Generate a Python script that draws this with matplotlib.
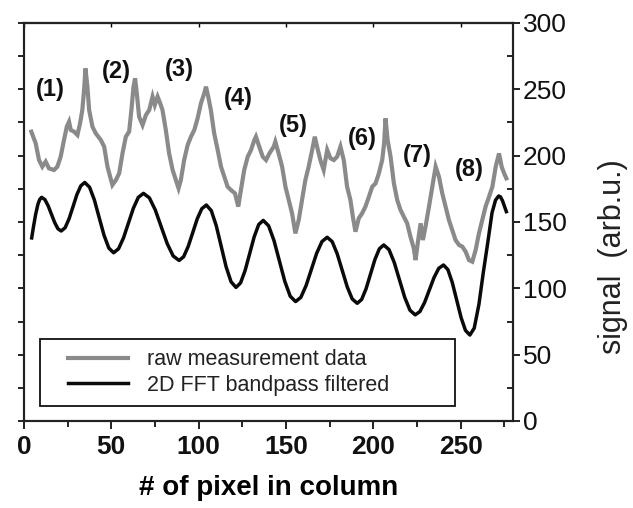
import matplotlib
matplotlib.use("Agg")
import matplotlib.pyplot as plt
from matplotlib.patches import Rectangle
from matplotlib.ticker import MultipleLocator, NullFormatter

plt.rcParams['font.family'] = ['Liberation Sans', 'DejaVu Sans']

# ---------------- data ----------------
raw_x = [4.2, 6.7, 8.6, 10.5, 12.4, 14.3, 17.2, 19.1, 21.0, 22.9, 24.5, 25.8, 26.8, 28.7, 30.6,
         32.1, 33.4, 34.4, 35.2, 36.3, 37.3, 39.2, 41.1, 44.0, 45.9, 47.8, 49.3, 50.6, 52.6, 54.5,
         56.4, 58.3, 60.2, 61.5, 62.7, 63.6, 64.6, 65.9, 67.9, 69.8, 71.7, 73.6, 74.9, 76.5, 78.0,
         79.3, 81.2, 83.1, 85.1, 87.0, 88.5, 89.8, 91.7, 93.7, 95.6, 97.5, 99.4, 101.3, 103.2, 104.2,
         105.5, 107.0, 108.9, 110.9, 112.8, 114.7, 116.6, 118.5, 120.8, 122.7, 124.2, 126.1, 128.1,
         130.0, 131.9, 132.8, 134.7, 136.7, 138.6, 140.5, 143.0, 143.9, 145.8, 147.8, 149.7, 151.6,
         153.5, 155.4, 157.3, 159.2, 161.1, 163.0, 165.0, 166.5, 167.8, 169.7, 171.6, 173.6, 175.5,
         177.4, 179.3, 181.2, 183.1, 185.0, 186.9, 188.3, 189.8, 191.7, 193.6, 195.5, 197.5, 199.4,
         201.3, 203.2, 205.1, 206.2, 207.0, 208.2, 209.9, 211.8, 213.7, 215.6, 217.5, 219.4, 221.3,
         223.2, 224.2, 225.7, 227.1, 228.4, 229.9, 231.9, 233.8, 235.7, 237.6, 239.5, 241.4, 243.3,
         245.2, 247.1, 249.1, 251.0, 252.9, 254.8, 256.7, 258.6, 260.5, 262.4, 264.3, 266.3, 268.2,
         270.1, 272.0, 273.5, 274.9, 276.2]
raw_y = [218.1, 209.3, 196.7, 191.7, 195.5, 190.4, 189.2, 191.7, 199.2, 211.8, 221.8, 225.6, 219.3, 218.1, 215.6,
         224.4, 234.4, 249.5, 265.8, 252.0, 234.4, 221.8, 216.8, 211.8, 206.8, 191.7, 184.2, 177.9, 181.6, 186.7,
         201.7, 214.3, 218.1, 234.4, 252.0, 258.3, 247.0, 229.4, 223.1, 230.6, 234.4, 244.5, 238.2, 244.5, 239.4,
         234.4, 219.3, 201.7, 189.2, 181.6, 175.4, 181.6, 196.7, 208.0, 214.3, 219.3, 228.1, 239.4, 247.0, 252.0,
         244.5, 234.4, 216.8, 204.3, 191.7, 184.2, 176.6, 174.1, 171.6, 161.6, 174.1, 189.2, 199.2,
         204.3, 211.8, 214.3, 206.8, 199.2, 196.7, 201.7, 206.8, 210.5, 201.7, 191.7, 176.6, 166.6,
         156.5, 141.4, 151.5, 166.6, 181.6, 191.7, 204.3, 214.3, 206.8, 196.7, 189.2, 204.3, 198.0,
         196.7, 199.2, 206.8, 196.7, 176.6, 166.6, 154.0, 142.7, 152.8, 156.5, 161.6, 169.1, 176.6,
         179.1, 186.7, 196.7, 209.3, 228.1, 211.8, 199.2, 179.1, 166.6, 159.0, 154.0, 149.0, 138.9,
         130.1, 121.3, 136.4, 149.0, 136.4, 146.5, 161.6, 176.6, 191.7, 184.2, 171.6, 161.6, 151.5,
         144.0, 136.4, 132.7, 131.4, 127.6, 121.3, 120.1, 128.9, 141.4, 151.5, 161.6, 169.1, 176.6,
         191.7, 201.7, 191.7, 186.7, 182.9]

filt_x = [4.4, 5.5, 6.7, 8.0, 9.0, 10.1,
          11.97, 13.83, 15.7, 17.57, 19.43, 21.3,
          23.55, 25.8, 28.05, 30.3, 32.55, 34.8,
          37.55, 40.3, 43.05, 45.8, 48.55, 51.3,
          54.13, 56.97, 59.8, 62.63, 65.47, 68.4,
          71.8, 75.2, 78.6, 82.0, 85.4, 88.8,
          91.4, 94.0, 96.6, 99.2, 101.8, 104.4,
          107.23, 110.07, 112.9, 115.73, 118.57, 121.4,
          124.0, 126.6, 129.2, 131.8, 134.4, 137.0,
          140.08, 143.17, 146.25, 149.33, 152.42, 155.5,
          158.52, 161.53, 164.55, 167.57, 170.58, 173.6,
          176.47, 179.33, 182.2, 185.07, 187.93, 190.8,
          193.33, 195.87, 198.4, 200.93, 203.47, 206.0,
          209.0, 212.0, 215.0, 218.0, 221.0, 224.0,
          226.7, 229.4, 232.1, 234.8, 237.5, 240.2,
          242.72, 245.23, 247.75, 250.27, 252.78, 255.3,
          257.8, 260.5, 263.0, 265.5, 268.0, 270.0, 271.8,
          272.8, 274.0, 275.2, 276.2]
filt_y = [138.0, 147.0, 156.0, 163.5, 167.0, 168.6,
          166.9, 162.2, 155.9, 149.6, 144.9, 143.2,
          145.7, 152.4, 161.5, 170.7, 177.3, 179.8,
          176.2, 166.6, 153.3, 140.1, 130.4, 126.8,
          129.8, 138.0, 149.2, 160.4, 168.6, 171.6,
          168.2, 159.0, 146.3, 133.7, 124.4, 121.0,
          123.8, 131.5, 141.9, 152.4, 160.0, 162.8,
          158.6, 147.3, 131.75, 116.2, 104.9, 100.7,
          104.1, 113.4, 126.1, 138.8, 148.1, 151.2,
          147.1, 135.9, 120.6, 105.3, 94.1, 90.0,
          93.2, 102.1, 114.25, 126.4, 135.2, 138.5,
          135.2, 126.05, 113.6, 101.15, 92.0, 88.7,
          91.6, 99.7, 110.7, 121.7, 129.8, 132.7,
          129.2, 119.5, 106.35, 93.2, 83.5, 80.0,
          82.5, 89.4, 98.8, 108.2, 115.1, 117.6,
          114.1, 104.4, 91.2, 78.0, 68.3, 64.8,
          70.0, 88.0, 112.0, 134.0, 157.0, 166.5, 169.6,
          169.0, 166.0, 161.5, 157.8]

peak_labels = ['(1)', '(2)', '(3)', '(4)', '(5)', '(6)', '(7)', '(8)']
peak_label_x = [14.9, 53.1, 88.9, 122.9, 154.4, 193.6, 225.2, 254.8]
peak_label_y = [249.5, 263.3, 264.6, 243.2, 223.1, 213.1, 200.5, 189.2]

series_names = ['raw measurement data', '2D FFT bandpass filtered']
x_ticks = [0, 50, 100, 150, 200, 250]
y_ticks = [0, 50, 100, 150, 200, 250, 300]

# ---------------- figure ----------------
W, H = 633, 508
fig = plt.figure(figsize=(W / 100, H / 100), dpi=100)
L, R, T, B = 24, 513, 23, 421
ax = fig.add_axes([L / W, 1 - B / H, (R - L) / W, (B - T) / H])
ax.set_xlim(0, 280)
ax.set_ylim(0, 300)

gray = '#8a8a8a'
l1, = ax.plot(raw_x, raw_y, color=gray, lw=3.0, solid_joinstyle='miter', label=series_names[0])
l2, = ax.plot(filt_x, filt_y, color='#0a0a0a', lw=2.5, label=series_names[1])

for s in ax.spines.values():
    s.set_linewidth(1.5)
    s.set_color('#222222')

# bottom axis
ax.set_xticks(x_ticks)
ax.xaxis.set_minor_locator(MultipleLocator(25))
ax.tick_params(axis='x', which='major', direction='out', length=6, width=1.3,
               labelsize=19, pad=4, colors='#111111')
ax.tick_params(axis='x', which='minor', direction='out', length=4, width=1.2)
for lab in ax.get_xticklabels():
    lab.set_fontweight('bold')

# left axis: unlabeled ticks
ax.set_yticks([25 * i for i in range(13)])
ax.yaxis.set_major_formatter(NullFormatter())
ax.tick_params(axis='y', which='major', direction='out', length=4, width=1.2)

# top ticks
top = ax.secondary_xaxis('top')
top.set_xticks(x_ticks)
top.xaxis.set_major_formatter(NullFormatter())
top.tick_params(direction='in', length=3, width=1.0)
top.spines['top'].set_linewidth(1.5)

# right axis
ax2 = ax.twinx()
ax2.set_ylim(0, 300)
ax2.set_yticks(y_ticks)
ax2.yaxis.set_minor_locator(MultipleLocator(25))
ax2.tick_params(axis='y', which='major', direction='out', length=5, width=1.3,
                labelsize=19, pad=2, colors='#111111')
ax2.tick_params(axis='y', which='minor', direction='in', length=4, width=1.2)
for s in ax2.spines.values():
    s.set_linewidth(1.5)
    s.set_color('#222222')
ax2.set_ylabel('signal  (arb.u.)', fontsize=22, rotation=90, va='center', ha='center',
               color='#222222')
ax2.yaxis.set_label_coords((613 - L) / (R - L), (B - 257) / (B - T))

ax.set_xlabel('# of pixel in column', fontsize=20, fontweight='bold', va='center')
ax.xaxis.set_label_coords(0.5, (B - 488) / (B - T))

# peak annotations
for t, px, py in zip(peak_labels, peak_label_x, peak_label_y):
    ax.text(px, py, t, fontsize=17, fontweight='bold', ha='center', va='center', color='#111111')

# legend with framed box
ax.add_patch(Rectangle(((40 - L) / (R - L), (B - 406) / (B - T)),
                       (455 - 40) / (R - L), (406 - 339) / (B - T),
                       transform=ax.transAxes, fill=False, lw=1.3, ec='#111111', zorder=5))
fs = 15.5
fspx = fs * 100 / 72
leg = ax.legend([l1, l2], series_names, loc='center left', frameon=False,
                bbox_to_anchor=((68 - L) / (R - L), (B - 372.5) / (B - T)),
                borderpad=0, borderaxespad=0, fontsize=fs,
                handlelength=60 / fspx, handletextpad=19 / fspx, labelspacing=0.22)
for t in leg.get_texts():
    t.set_color('#222222')

fig.savefig('out.png', dpi=100)
